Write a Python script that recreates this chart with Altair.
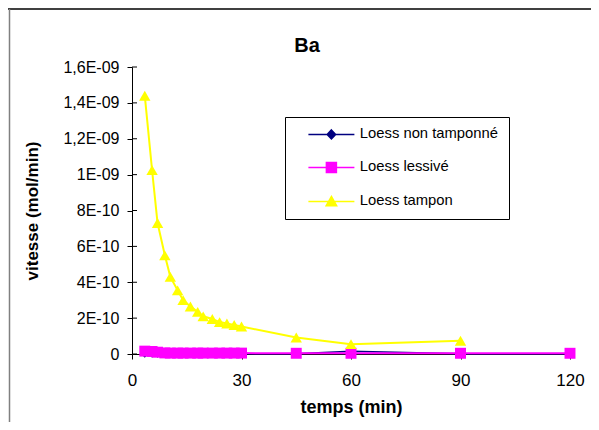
import altair as alt
import pandas as pd

# ---- data ----
SERIES = ["Loess non tamponné", "Loess lessivé", "Loess tampon"]
COLORS = ["#000080", "#FF00FF", "#FFFF00"]

TIMES = [3.5, 5.5, 7, 9, 10.5, 12.5, 14, 16, 18, 19.5, 22, 24, 26, 28, 30, 45, 60, 90, 120]

NON_TAMPONNE = [2e-12, 2e-12, 1e-12, 1e-12, 1e-12, 1e-12, 1e-12, 1e-12, 1e-12, 1e-12,
                1e-12, 1e-12, 1e-12, 1e-12, 1e-12, 2e-12, 1.5e-11, 2e-12, 1e-12]
LESSIVE = [1.6e-11, 1.4e-11, 1.0e-11, 6e-12, 5e-12, 5e-12, 5e-12, 5e-12, 5e-12, 5e-12,
           5e-12, 5e-12, 5e-12, 5e-12, 5e-12, 4e-12, 4e-12, 4e-12, 4e-12]
TAMPON = [1.44e-9, 1.025e-9, 7.3e-10, 5.5e-10, 4.3e-10, 3.55e-10, 3.0e-10, 2.65e-10,
          2.35e-10, 2.1e-10, 1.95e-10, 1.78e-10, 1.7e-10, 1.62e-10, 1.53e-10,
          9.2e-11, 5.5e-11, 7.4e-11]

Y_TICKS = [0, 2e-10, 4e-10, 6e-10, 8e-10, 1e-9, 1.2e-9, 1.4e-9, 1.6e-9]
Y_LABELS = ["0", "2E-10", "4E-10", "6E-10", "8E-10", "1E-09", "1,2E-09", "1,4E-09", "1,6E-09"]
X_TICKS = [0, 30, 60, 90, 120]

rows = []
for s, vals in zip(SERIES, [NON_TAMPONNE, LESSIVE, TAMPON]):
    for t, v in zip(TIMES, vals):
        rows.append({"series": s, "t": t, "value": v})
df = pd.DataFrame(rows)

W, H = 438, 287
FONT = "Liberation Sans"

label_expr = "[" + ",".join("'%s'" % l for l in Y_LABELS) + "][round(datum.value/2e-10)]"

X = alt.X("t:Q", scale=alt.Scale(domain=[0, 120], nice=False, zero=False),
          axis=alt.Axis(values=X_TICKS, title="temps (min)", grid=False, labelFlush=False,
                        tickSize=5, labelPadding=13, titlePadding=10,
                        labelFontSize=17, titleFontSize=18, titleFontWeight="bold"))
Y = alt.Y("value:Q", scale=alt.Scale(domain=[0, 1.6e-9], nice=False),
          axis=alt.Axis(values=Y_TICKS, labelExpr=label_expr, title="vitesse (mol/min)",
                        grid=False, tickSize=5, labelPadding=8, titlePadding=21,
                        labelFontSize=16, titleFontSize=17, titleFontWeight="bold"))

base = alt.Chart(df)

layers = []

# chart-area frame (top and left edges)
frame = pd.DataFrame({"a": [0]})
layers.append(alt.Chart(frame).mark_rule(color="black", strokeWidth=1.5).encode(
    x=alt.value(-124), x2=alt.value(W + 40), y=alt.value(-58)))
layers.append(alt.Chart(frame).mark_rule(color="#808080", strokeWidth=1.5).encode(
    x=alt.value(-122.5), y=alt.value(-58), y2=alt.value(H + 80)))

# inner half of the crossing y ticks
layers.append(alt.Chart(pd.DataFrame({"value": Y_TICKS})).mark_rule(color="black").encode(
    y=Y, x=alt.value(0), x2=alt.value(5)))

SHAPES = ["diamond", "square", "triangle-up"]
SIZES = [64, 120, 130]
WIDTHS = [1.5, 2, 2]
for s, c, sh, sz, w in zip(SERIES, COLORS, SHAPES, SIZES, WIDTHS):
    sub = base.transform_filter(alt.datum.series == s)
    layers.append(sub.mark_line(color=c, strokeWidth=w).encode(x=X, y=Y))
    layers.append(sub.mark_point(shape=sh, size=sz, filled=True, color=c, opacity=1).encode(x=X, y=Y))

# legend (line + marker symbols)
LEG_PATHS = [
    "M-4.6,0H4.6M0,-0.9L0.85,0L0,0.9L-0.85,0Z",
    "M-4.6,0H4.6M-1,-1H1V1H-1Z",
    "M-4.6,0H4.6M0,-1L1.05,0.85H-1.05Z",
]
legend_layer = base.transform_filter("false").mark_point(filled=True, opacity=1).encode(
    color=alt.Color("series:N", scale=alt.Scale(domain=SERIES, range=COLORS), title=None),
    stroke=alt.Stroke("series:N", scale=alt.Scale(domain=SERIES, range=COLORS), title=None),
    shape=alt.Shape("series:N", scale=alt.Scale(domain=SERIES, range=LEG_PATHS), title=None),
)
layers.append(legend_layer)

chart = alt.layer(*layers).properties(
    width=W, height=H,
    title=alt.TitleParams("Ba", fontSize=20, fontWeight="bold", font=FONT, dx=-44, offset=-48, color="black"),
    autosize=alt.AutoSizeParams(type="none"),
    padding={"left": 124, "top": 59, "right": 21, "bottom": 68},
).configure_view(stroke=None).configure_axis(
    domainColor="black", tickColor="black", labelColor="black", titleColor="black",
    labelFont=FONT, titleFont=FONT, domainWidth=1, tickWidth=1,
).configure_legend(
    orient="none", legendX=153, legendY=50, padding=10, strokeColor="black", fillColor="white",
    symbolSize=100, symbolStrokeWidth=1.5, symbolOffset=29, labelOffset=21,
    labelFont=FONT, labelFontSize=14.8, labelColor="black", rowPadding=17, cornerRadius=0,
    symbolOpacity=1,
)

chart.save("out.html", embed_options={"renderer": "svg", "actions": False})
